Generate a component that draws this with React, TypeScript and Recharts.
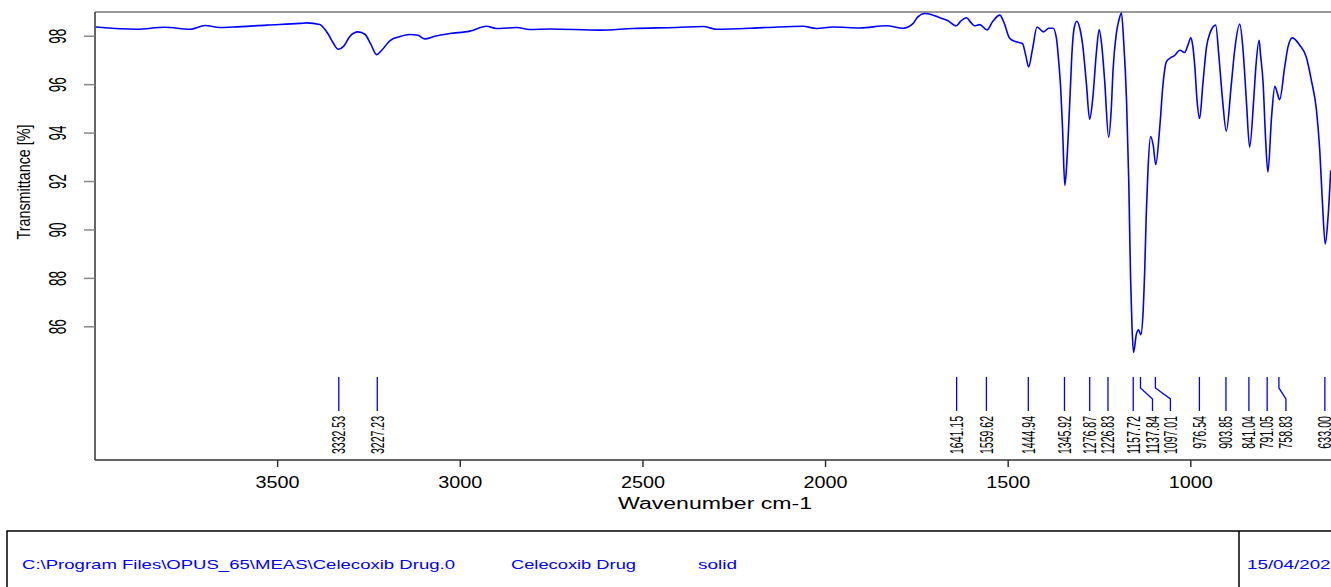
import { ComposedChart, Line, Scatter, XAxis, YAxis, ReferenceLine } from "recharts";

// spectrum (cm-1, %T)
const WAVENUMBERS = [
  3998, 3886, 3809, 3740, 3699, 3658, 3623, 3530, 3439, 3420, 3385, 3363, 3349, 3334, 3319, 3302, 3280,
  3261, 3245, 3229, 3215, 3193, 3166, 3139, 3116, 3097, 3070, 3029, 2974, 2928, 2901, 2892, 2846, 2810,
  2755, 2618, 2528, 2408, 2335, 2299, 2162, 2062, 2025, 1979, 1906, 1833, 1788, 1760, 1748, 1728, 1709,
  1687, 1665, 1642, 1630, 1614, 1603, 1592, 1578, 1558, 1542, 1523, 1512, 1496, 1479, 1461, 1452, 1444,
  1434, 1421, 1403, 1389, 1377, 1368, 1362, 1356, 1351, 1345, 1340, 1335, 1330, 1325, 1319, 1312, 1304,
  1296, 1286, 1277, 1269, 1258, 1251, 1244, 1236, 1225, 1218, 1213, 1204, 1197, 1190, 1184, 1176, 1170,
  1165, 1161, 1157, 1149, 1143, 1137, 1131, 1126, 1122, 1117, 1110, 1103, 1096, 1085, 1076, 1067, 1058,
  1044, 1030, 1017, 1008, 1000, 995, 989, 983, 976, 967, 957, 948, 940, 932, 923, 913, 903, 889, 880, 866,
  857, 848, 839, 828, 822, 813, 809, 802, 796, 789, 779, 770, 763, 757, 743, 734, 722, 702, 684, 670, 656,
  647, 640, 632, 625, 617,
];

const TRANSMITTANCE = [
  98.38, 98.29, 98.37, 98.29, 98.44, 98.36, 98.38, 98.46, 98.53, 98.55, 98.48, 98.12, 97.75, 97.46, 97.59,
  98.0, 98.18, 98.08, 97.67, 97.24, 97.42, 97.81, 97.98, 98.07, 98.04, 97.89, 98.0, 98.11, 98.21, 98.41,
  98.32, 98.32, 98.36, 98.28, 98.3, 98.25, 98.32, 98.36, 98.4, 98.29, 98.36, 98.41, 98.32, 98.38, 98.34,
  98.43, 98.33, 98.53, 98.79, 98.94, 98.89, 98.76, 98.64, 98.43, 98.62, 98.76, 98.58, 98.43, 98.48, 98.26,
  98.62, 98.87, 98.58, 97.92, 97.77, 97.7, 97.21, 96.73, 97.42, 98.38, 98.18, 98.33, 98.33, 97.92, 97.01,
  95.77, 94.11, 91.84, 92.67, 94.11, 95.77, 97.42, 98.37, 98.62, 98.33, 97.63, 96.06, 94.57, 95.35, 97.42,
  98.28, 97.63, 96.18, 93.83, 94.94, 96.59, 98.11, 98.66, 98.96, 97.83, 95.35, 92.04, 88.04, 86.0, 84.94,
  85.7, 85.88, 85.67, 86.53, 88.46, 90.66, 92.59, 93.86, 93.49, 92.7, 94.25, 96.04, 96.94, 97.08, 97.21,
  97.42, 97.33, 97.63, 97.93, 97.63, 96.73, 95.35, 94.6, 96.04, 97.56, 98.11, 98.37, 98.46, 97.14, 95.35,
  94.08, 96.04, 97.42, 98.5, 97.42, 95.35, 93.42, 95.35, 96.73, 97.83, 97.21, 96.04, 93.97, 92.39, 94.66,
  95.93, 95.64, 95.38, 96.73, 97.56, 97.93, 97.63, 97.14, 96.18, 94.94, 93.28, 91.21, 89.42, 90.39, 92.46,
];

const PEAK_WAVENUMBERS = [
  3332.53, 3227.23, 1641.15, 1559.62, 1444.94, 1345.92, 1276.87, 1226.83, 1157.72, 1137.84, 1097.01,
  976.54, 903.85, 841.04, 791.05, 758.83, 633.0,
];

const X_TICKS = [3500, 3000, 2500, 2000, 1500, 1000];
const Y_TICKS = [86, 88, 90, 92, 94, 96, 98];

const spectrum = WAVENUMBERS.map((w, i) => ({ w, t: TRANSMITTANCE[i] }));

// peak markers hang just under the plot, at this %T level
const MARK_LEVEL = 83.93;
const peaks = PEAK_WAVENUMBERS.map((w) => ({ w, mark: MARK_LEVEL }));

// crowded labels are nudged right (px) with a kinked leader
const LABEL_SHIFT: Record<string, number> = { "1137.84": 12, "1097.01": 15, "758.83": 7 };

const FONT = "'Liberation Sans', Arial, sans-serif";
const NARROW = "'Liberation Sans Narrow', 'Liberation Sans', Arial, sans-serif";
const BLUE = "#0000ff";

function XTick(props: any) {
  const { x, y, payload } = props;
  return (
    <text
      x={x}
      y={y + 19}
      textAnchor="middle"
      fontFamily={FONT}
      fontSize={16}
      textLength={44}
      lengthAdjust="spacingAndGlyphs"
      fill="#000"
    >
      {payload.value}
    </text>
  );
}

function YTick(props: any) {
  const { x, y, payload } = props;
  return (
    <text
      transform={`translate(${x - 24.5},${y}) rotate(-90)`}
      textAnchor="middle"
      dy="0.35em"
      fontFamily={FONT}
      fontSize={24}
      textLength={15}
      lengthAdjust="spacingAndGlyphs"
      fill="#000"
    >
      {payload.value}
    </text>
  );
}

function PeakMark(props: any) {
  const { cx, cy, payload } = props;
  if (cx == null || cy == null) return null;
  const label = payload.w.toFixed(2);
  const s = LABEL_SHIFT[label] ?? 0;
  const d = s
    ? `M${cx},${cy} L${cx},${cy + 11} L${cx + s},${cy + 22} L${cx + s},${cy + 34}`
    : `M${cx},${cy} L${cx},${cy + 34}`;
  const tx = cx + s;
  return (
    <g>
      <path d={d} stroke={BLUE} strokeWidth={1.3} fill="none" />
      <text
        transform={`translate(${tx},${cy + 39}) rotate(-90)`}
        textAnchor="end"
        dy="0.35em"
        fontFamily={NARROW}
        fontSize={18}
        textLength={label.length * 5.45}
        lengthAdjust="spacingAndGlyphs"
        fill="#000"
      >
        {label}
      </text>
    </g>
  );
}

export default function App() {
  return (
    <div
      style={{
        position: "absolute",
        left: 0,
        top: 0,
        width: 1331,
        height: 587,
        overflow: "hidden",
        background: "#fff",
      }}
    >
      <ComposedChart
        width={1420}
        height={587}
        data={spectrum}
        margin={{ top: 12, right: 10, left: 55, bottom: 97 }}
      >
        <XAxis
          type="number"
          dataKey="w"
          domain={[400, 4000]}
          reversed
          ticks={X_TICKS}
          tick={<XTick />}
          tickSize={7}
          height={30}
          stroke="#333"
          axisLine={{ stroke: "#333", strokeWidth: 1.5 }}
          tickLine={{ stroke: "#333", strokeWidth: 1.5 }}
        />
        <YAxis
          type="number"
          domain={[80.5, 99]}
          ticks={Y_TICKS}
          tick={<YTick />}
          tickSize={11}
          width={40}
          axisLine={{ stroke: "#333", strokeWidth: 1.5 }}
          tickLine={{ stroke: "#888", strokeWidth: 1.5 }}
        />
        <ReferenceLine y={99} stroke="#999" strokeWidth={2} />
        <Line
          type="monotone"
          dataKey="t"
          stroke={BLUE}
          strokeWidth={1.6}
          dot={false}
          isAnimationActive={false}
        />
        <Scatter
          data={peaks}
          dataKey="mark"
          shape={<PeakMark />}
          isAnimationActive={false}
        />
      </ComposedChart>

      {/* axis titles and the OPUS footer strip */}
      <svg
        width={1331}
        height={587}
        style={{ position: "absolute", left: 0, top: 0, pointerEvents: "none" }}
      >
        <text
          transform="translate(23.5,182) rotate(-90)"
          textAnchor="middle"
          dy="0.35em"
          fontFamily={FONT}
          fontSize={19}
          textLength={115}
          lengthAdjust="spacingAndGlyphs"
        >
          Transmittance [%]
        </text>
        <text
          x={618}
          y={509}
          fontFamily={FONT}
          fontSize={16}
          textLength={194}
          lengthAdjust="spacingAndGlyphs"
        >
          Wavenumber cm-1
        </text>
        <rect x={7} y={531} width={1400} height={100} fill="none" stroke="#000" strokeWidth={1.5} />
        <line x1={1239} y1={531} x2={1239} y2={587} stroke="#000" strokeWidth={1.5} />
        <g fontFamily={FONT} fontSize={13} fill={BLUE}>
          <text x={22} y={568.5} textLength={433} lengthAdjust="spacingAndGlyphs">
            C:\Program Files\OPUS_65\MEAS\Celecoxib Drug.0
          </text>
          <text x={511} y={568.5} textLength={125} lengthAdjust="spacingAndGlyphs">
            Celecoxib Drug
          </text>
          <text x={698} y={568.5} textLength={39} lengthAdjust="spacingAndGlyphs">
            solid
          </text>
          <text x={1247} y={568.5} textLength={94} lengthAdjust="spacingAndGlyphs">
            15/04/2024
          </text>
        </g>
      </svg>
    </div>
  );
}
